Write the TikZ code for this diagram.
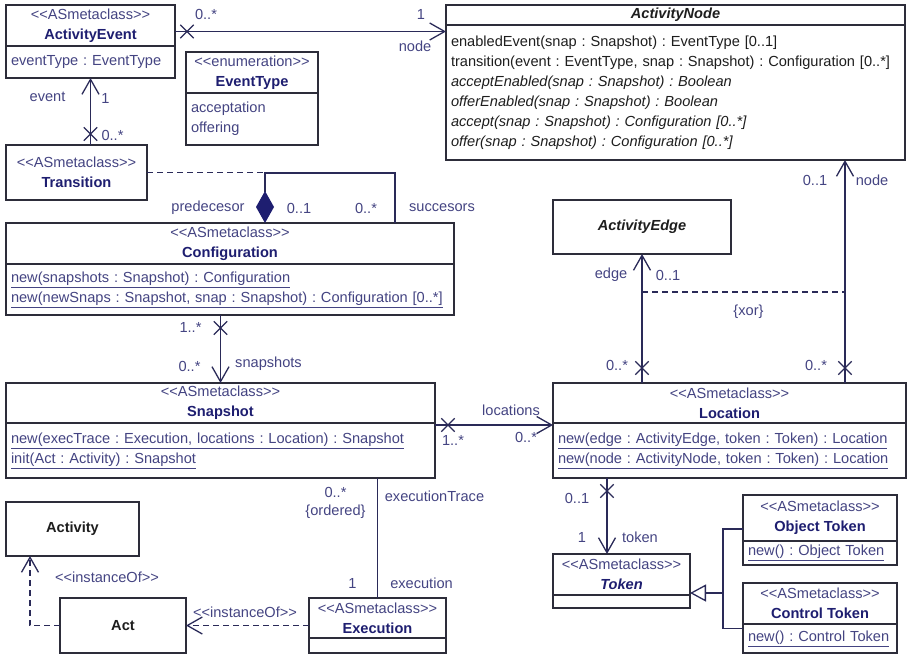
\documentclass[tikz,border=0pt]{standalone}
\usepackage{fontspec}
\setmainfont{Liberation Sans}
\usepackage{tikz}
\usetikzlibrary{positioning,calc,shapes.misc,arrows.meta}
\definecolor{UmlBox}{RGB}{45,45,58}
\definecolor{UmlNavy}{RGB}{30,30,112}
\definecolor{UmlText}{RGB}{68,68,130}
\definecolor{UmlLine}{RGB}{42,42,88}
\definecolor{UmlInk}{RGB}{30,30,30}
\newcommand{\stereo}[1]{<{}<#1>{}>}
\newcommand{\cname}[1]{{\bfseries\color{UmlNavy}#1}}
\frenchspacing

\begin{document}
\begin{tikzpicture}[%
    x=1pt, y=-1pt,
    font=\fontsize{14.6}{20}\selectfont,
    head/.style={rectangle, draw=UmlBox, fill=white, line width=1.3pt, outer sep=0pt, inner sep=0pt, align=center, text=UmlText, anchor=north west},
    body/.style={rectangle, draw=UmlBox, fill=white, line width=1.3pt, outer sep=0pt, inner xsep=5pt, inner ysep=0pt, align=left, text=UmlText},
    assoc/.style={draw=UmlLine, line width=1.3pt},
    navi/.style={assoc, -{Straight Barb[length=15pt, width=17pt]}},
    dep/.style={assoc, dash pattern=on 6pt off 4pt},
    xmark/.style={cross out, draw=UmlLine, line width=1.3pt, minimum size=12pt, inner sep=0pt},
    lbl/.style={text=UmlText, inner sep=0pt}
  ]
  \useasboundingbox (0,0) rectangle (907,654);

  % Nodes
  \node[head, minimum width=169pt, minimum height=41pt] (aeventH) at (6,5) {\stereo{ASmetaclass}\\\cname{ActivityEvent}};
  \node[body, below=0pt of aeventH, text width=159pt, minimum height=32pt] (aeventB) {eventType : EventType};

  \node[head, minimum width=132pt, minimum height=41pt] (etypeH) at (186,52) {\stereo{enumeration}\\\cname{EventType}};
  \node[body, below=0pt of etypeH, text width=122pt, minimum height=52pt] (etypeB) {acceptation\\offering};

  \node[head, minimum width=141pt, minimum height=55pt] (transN) at (6,145) {\stereo{ASmetaclass}\\\cname{Transition}};

  \node[head, minimum width=459pt, minimum height=20pt] (anodeH) at (446,5) {\bfseries\itshape\color{UmlInk}ActivityNode};
  \node[body, below=0pt of anodeH, text width=449pt, minimum height=135pt, text=UmlInk] (anodeB)
    {enabledEvent(snap : Snapshot) : EventType [0..1]\\
     transition(event : EventType, snap : Snapshot) : Configuration [0..*]\\
     \itshape acceptEnabled(snap : Snapshot) : Boolean\\
     \itshape offerEnabled(snap : Snapshot) : Boolean\\
     \itshape accept(snap : Snapshot) : Configuration [0..*]\\
     \itshape offer(snap : Snapshot) : Configuration [0..*]};

  \node[head, minimum width=448pt, minimum height=41pt] (confH) at (6,223) {\stereo{ASmetaclass}\\\cname{Configuration}};
  \node[body, below=0pt of confH, text width=438pt, minimum height=51pt] (confB)
    {\underline{new(snapshots : Snapshot) : Configuration}\\
     \underline{new(newSnaps : Snapshot, snap : Snapshot) : Configuration [0..*]}};

  \node[head, minimum width=429pt, minimum height=40pt] (snapH) at (6,383) {\stereo{ASmetaclass}\\\cname{Snapshot}};
  \node[body, below=0pt of snapH, text width=419pt, minimum height=55pt] (snapB)
    {\underline{new(execTrace : Execution, locations : Location) : Snapshot}\\
     \underline{init(Act : Activity) : Snapshot}};

  \node[head, minimum width=178pt, minimum height=54pt] (aedgeN) at (553,200) {\bfseries\itshape\color{UmlInk}ActivityEdge};

  \node[head, minimum width=353pt, minimum height=40pt] (locH) at (553,383) {\stereo{ASmetaclass}\\\cname{Location}};
  \node[body, below=0pt of locH, text width=343pt, minimum height=55pt] (locB)
    {\underline{new(edge : ActivityEdge, token : Token) : Location}\\
     \underline{new(node : ActivityNode, token : Token) : Location}};

  \node[head, minimum width=137pt, minimum height=41pt] (tokH) at (553,554) {\stereo{ASmetaclass}\\{\bfseries\itshape\color{UmlNavy}Token}};
  \node[body, below=0pt of tokH, text width=127pt, minimum height=13pt] (tokB) {};

  \node[head, minimum width=154pt, minimum height=46pt] (otokH) at (743,495) {\stereo{ASmetaclass}\\\cname{Object Token}};
  \node[body, below=0pt of otokH, text width=144pt, minimum height=24pt] (otokB) {\underline{new() : Object Token}};

  \node[head, minimum width=154pt, minimum height=41pt] (ctokH) at (743,583) {\stereo{ASmetaclass}\\\cname{Control Token}};
  \node[body, below=0pt of ctokH, text width=144pt, minimum height=29pt] (ctokB) {\underline{new() : Control Token}};

  \node[head, minimum width=133pt, minimum height=54pt] (activityN) at (6,502) {\bfseries\color{UmlInk}Activity};
  \node[head, minimum width=126pt, minimum height=55pt] (actN) at (60,598) {\bfseries\color{UmlInk}Act};

  \node[head, minimum width=137pt, minimum height=40pt] (execH) at (309,598) {\stereo{ASmetaclass}\\\cname{Execution}};
  \node[body, below=0pt of execH, text width=127pt, minimum height=15pt] (execB) {};

  % Connections
  \draw[navi] ([yshift=-6pt]aeventH.east) coordinate (evStart) --
    node[xmark, at start, shift={(12,0)}] {}
    node[lbl, at start, shift={(31,-17)}] {0..*}
    node[lbl, at end, shift={(-25,-17)}] {1}
    node[lbl, at end, shift={(-31,15)}] {node} (evStart -| anodeB.west);

  \draw[navi] (transN.north -| aeventB.south) --
    node[xmark, at start, shift={(0,-11)}] {}
    node[lbl, at start, shift={(22,-10)}] {0..*}
    node[lbl, at end, shift={(-43,19)}] {event}
    node[lbl, at end, shift={(15,20)}] {1} (aeventB.south);

  \draw[assoc, {Diamond[length=32pt, width=18pt, color=UmlNavy, fill=UmlNavy]}-]
    ([xshift=259pt]confH.north west) --
    node[lbl, at start, shift={(-57,-15)}] {predecesor}
    node[lbl, at start, shift={(34,-15)}] {0..1} ++(0,-50) coordinate (selfL) -|
    node[lbl, at end, shift={(-29,-15)}] {0..*}
    node[lbl, at end, shift={(47,-15)}] {succesors} ([xshift=389pt]confH.north west);
  \draw[dep] (transN.east) -- (transN.east -| selfL);

  \draw[navi] (snapH.north |- confB.south) --
    node[xmark, at start, shift={(0,13)}] {}
    node[lbl, at start, shift={(-30,12)}] {1..*}
    node[lbl, at end, shift={(-31,-17)}] {0..*}
    node[lbl, at end, shift={(48,-19)}] {snapshots} (snapH.north);

  \draw[navi] ([yshift=-2pt]snapB.north east) coordinate (lcStart) --
    node[xmark, at start, shift={(13,0)}] {}
    node[lbl, at start, shift={(18,15)}] {1..*}
    node[lbl, at end, shift={(-42,-15)}] {locations}
    node[lbl, at end, shift={(-27,12)}] {0..*} (lcStart -| locB.west);

  \draw[navi] (locH.north -| aedgeN.south) --
    node[xmark, at start, shift={(0,-15)}] {}
    node[lbl, at start, shift={(-25,-18)}] {0..*}
    node[lbl, at end, shift={(-31,21)}] {edge}
    node[lbl, at end, shift={(26,21)}] {0..1} (aedgeN.south);

  \draw[navi] ([xshift=-61pt]locH.north east) coordinate (ndStart) --
    node[xmark, at start, shift={(0,-15)}] {}
    node[lbl, at start, shift={(-29,-18)}] {0..*}
    node[lbl, at end, shift={(-30,20)}] {0..1}
    node[lbl, at end, shift={(27,20)}] {node} (ndStart |- anodeB.south);

  \draw[dep] ([yshift=-38pt]aedgeN.south) coordinate (xorL) --
    node[lbl, midway, shift={(5,20)}] {\{xor\}} (xorL -| ndStart);

  \draw[assoc] (execH.north |- snapB.south) --
    node[lbl, at start, shift={(-42,14)}] {0..*}
    node[lbl, at start, shift={(-42,34)}] {\{ordered\}}
    node[lbl, at start, shift={(57,18)}] {executionTrace}
    node[lbl, at end, shift={(-25,-15)}] {1}
    node[lbl, at end, shift={(44,-15)}] {execution} (execH.north);

  \draw[navi] ([xshift=54pt]locB.south west) coordinate (tkStart) --
    node[xmark, at start, shift={(0,13)}] {}
    node[lbl, at start, shift={(-30,20)}] {0..1}
    node[lbl, at end, shift={(-25,-17)}] {1}
    node[lbl, at end, shift={(33,-17)}] {token} (tkStart |- tokH.north);

  % Generalization
  \draw[assoc, -{Triangle[open, length=16pt, width=17pt, fill=white]}]
    ([yshift=-11pt]otokH.west) -| ([xshift=33pt, yshift=2pt]tokH.south east) coordinate (genJ) -- ([yshift=2pt]tokH.south east);
  \draw[assoc] ([yshift=10pt]ctokB.west) -| (genJ);

  % Instance of
  \draw[dep, -{Straight Barb[length=15pt, width=17pt]}] (execH.west |- actN.east) --
    node[lbl, at end, shift={(59,-13)}] {\stereo{instanceOf}} (actN.east);
  \draw[dep, -{Straight Barb[length=15pt, width=17pt]}] (actN.west) -|
    node[lbl, at end, shift={(77,21)}] {\stereo{instanceOf}} ([xshift=24pt]activityN.south west);
\end{tikzpicture}
\end{document}
